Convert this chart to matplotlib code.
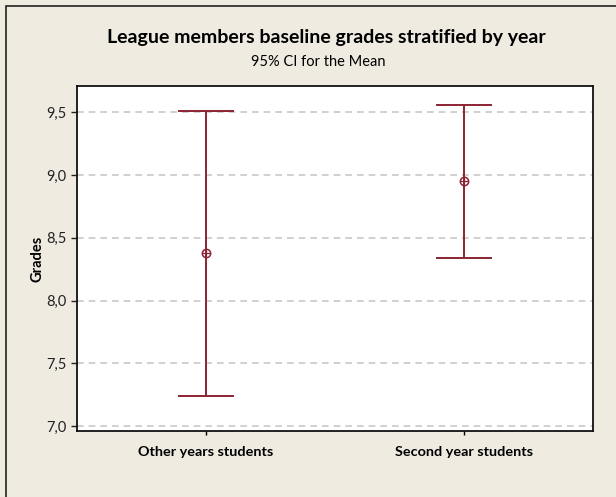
import matplotlib
matplotlib.use('Agg')
import matplotlib.pyplot as plt
from matplotlib.patches import Rectangle
from matplotlib.ticker import FuncFormatter

groups = ['Other years students', 'Second year students']
means = [8.38, 8.95]
lower = [7.24, 8.34]
upper = [9.51, 9.56]
yticks = [7.0, 7.5, 8.0, 8.5, 9.0, 9.5]

plt.rcParams['font.family'] = ['Lato', 'DejaVu Sans']
bg = '#efebe1'
red = '#8c2332'

fig = plt.figure(figsize=(6.16, 4.97), dpi=100, facecolor=bg)
ax = fig.add_axes([77/616, 1 - 431/497, (593-77)/616, (431-86)/497])

x = [1, 2]
err = [[m - l for m, l in zip(means, lower)], [u - m for m, u in zip(means, upper)]]
ax.errorbar(x, means, yerr=err, fmt='none', ecolor=red, elinewidth=1.4,
            capsize=20, capthick=1.4, zorder=3)
ax.plot(x, means, 'o', ms=6, mfc='none', mec=red, mew=1.1, zorder=4)
ax.plot(x, means, '+', ms=6, mec=red, mew=0.9, zorder=4)

ax.set_xlim(0.5, 2.5)
ax.set_ylim(6.96, 9.71)
ax.set_yticks(yticks)
ax.yaxis.set_major_formatter(FuncFormatter(lambda v, p: f'{v:.1f}'.replace('.', ',')))
ax.set_xticks(x)
ax.set_xticklabels(groups, fontweight='bold', fontsize=10.4)
ax.tick_params(axis='y', labelsize=10.5, length=4, width=1, colors='#222222')
ax.tick_params(axis='x', length=3, width=1, pad=8)
ax.grid(axis='y', color='#c8c8c8', linestyle=(0, (4, 3)), linewidth=1.2)
ax.set_axisbelow(True)
for s in ax.spines.values():
    s.set_linewidth(1.3)
    s.set_color('#111111')
ax.set_ylabel('Grades', fontweight='bold', fontsize=10.5, labelpad=1)

fig.text(326/616, 1 - 37/497, 'League members baseline grades stratified by year',
         ha='center', va='center', fontsize=14, fontweight='bold')
fig.text(318/616, 1 - 62/497, '95% CI for the Mean', ha='center', va='center', fontsize=10.5)

fig.patches.append(Rectangle((6/616, -0.1), 2, 1 - 6/497 + 0.1, transform=fig.transFigure,
                             fill=False, edgecolor='#222222', linewidth=1.2))

fig.savefig('out.png', dpi=100, facecolor=bg)
